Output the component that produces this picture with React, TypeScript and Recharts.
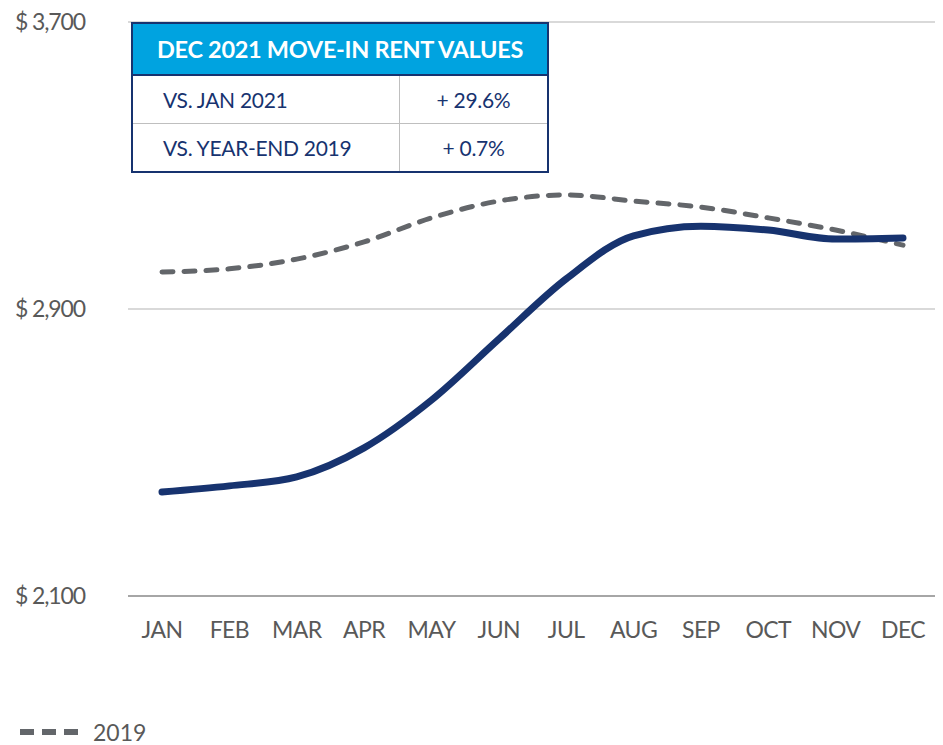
import { CartesianGrid, Line, LineChart, XAxis, YAxis } from "recharts"

const months = ["JAN", "FEB", "MAR", "APR", "MAY", "JUN", "JUL", "AUG", "SEP", "OCT", "NOV", "DEC"]
const rent2021 = [2390, 2407, 2432, 2513, 2646, 2816, 2984, 3104, 3131, 3120, 3095, 3098]
const rent2019 = [3003, 3012, 3039, 3087, 3154, 3201, 3218, 3201, 3184, 3154, 3120, 3078]
const yTicks = [2100, 2900, 3700]

const tableTitle = "DEC 2021 MOVE-IN RENT VALUES"
const tableRows = [
  { label: "VS. JAN 2021", value: "+ 29.6%" },
  { label: "VS. YEAR-END 2019", value: "+ 0.7%" },
]

const data = months.map((m, i) => ({ month: m, y2021: rent2021[i], y2019: rent2019[i] }))

const FONT = "Lato, 'Open Sans', sans-serif"
const NAVY = "#17336f"
const GRAY = "#63666a"
const LABEL = "#595959"

const fmt = (v: number) => `$ ${v.toLocaleString("en-US")}`

export default function App() {
  return (
    <div style={{ position: "absolute", left: 0, top: 0, width: 943, height: 745, background: "#fff", fontFamily: FONT }}>
      <LineChart width={943} height={745} data={data} margin={{ top: 22, right: 8, left: 0, bottom: 89 }}>
        <CartesianGrid vertical={false} stroke="#d9d9d9" strokeWidth={2} />
        <XAxis
          dataKey="month"
          height={60}
          padding={{ left: 34, right: 32 }}
          tickLine={false}
          axisLine={{ stroke: "#a6a6a6", strokeWidth: 2 }}
          tickSize={0}
          tickMargin={26}
          tick={{ fill: LABEL, fontSize: 23, fontFamily: FONT, letterSpacing: -0.6 }}
          interval={0}
        />
        <YAxis
          width={128}
          domain={[2100, 3700]}
          ticks={yTicks}
          tickLine={false}
          axisLine={false}
          tickSize={0}
          tickMargin={43}
          tickFormatter={fmt}
          tick={{ fill: LABEL, fontSize: 23, fontFamily: FONT, letterSpacing: -1.1 }}
        />
        <Line
          type="monotone"
          dataKey="y2019"
          stroke={GRAY}
          strokeWidth={5}
          strokeDasharray="11 11"
          strokeLinecap="round"
          dot={false}
          activeDot={false}
          isAnimationActive={false}
        />
        <Line
          type="monotone"
          dataKey="y2021"
          stroke={NAVY}
          strokeWidth={7}
          strokeLinecap="round"
          dot={false}
          activeDot={false}
          isAnimationActive={false}
        />
      </LineChart>

      {/* summary table over the chart */}
      <div
        style={{
          position: "absolute",
          left: 131,
          top: 22,
          width: 418,
          boxSizing: "border-box",
          border: `2px solid ${NAVY}`,
          background: "#fff",
        }}
      >
        <div
          style={{
            height: 50,
            background: "#00a3e0",
            color: "#fff",
            fontWeight: 700,
            fontSize: 23.5,
            letterSpacing: -0.3,
            display: "flex",
            alignItems: "center",
            justifyContent: "center",
            borderBottom: `2px solid ${NAVY}`,
          }}
        >
          {tableTitle}
        </div>
        {tableRows.map((r, i) => (
          <div
            key={r.label}
            style={{
              display: "flex",
              height: 47,
              borderTop: i > 0 ? "1px solid #bfbfbf" : "none",
              color: NAVY,
              fontSize: 21,
              letterSpacing: -0.3,
            }}
          >
            <div
              style={{
                width: 267,
                boxSizing: "border-box",
                paddingLeft: 30,
                display: "flex",
                alignItems: "center",
                borderRight: "1px solid #bfbfbf",
              }}
            >
              {r.label}
            </div>
            <div style={{ flex: 1, display: "flex", alignItems: "center", justifyContent: "center" }}>{r.value}</div>
          </div>
        ))}
      </div>

      {/* legend */}
      <div
        style={{
          position: "absolute",
          left: 18,
          top: 721,
          display: "flex",
          alignItems: "center",
          color: LABEL,
          fontSize: 23,
          lineHeight: "22px",
        }}
      >
        <svg width={64} height={10}>
          <line x1={2} y1={5} x2={62} y2={5} stroke={GRAY} strokeWidth={6} strokeDasharray="14 8" />
        </svg>
        <span style={{ marginLeft: 11 }}>2019</span>
      </div>
    </div>
  )
}
